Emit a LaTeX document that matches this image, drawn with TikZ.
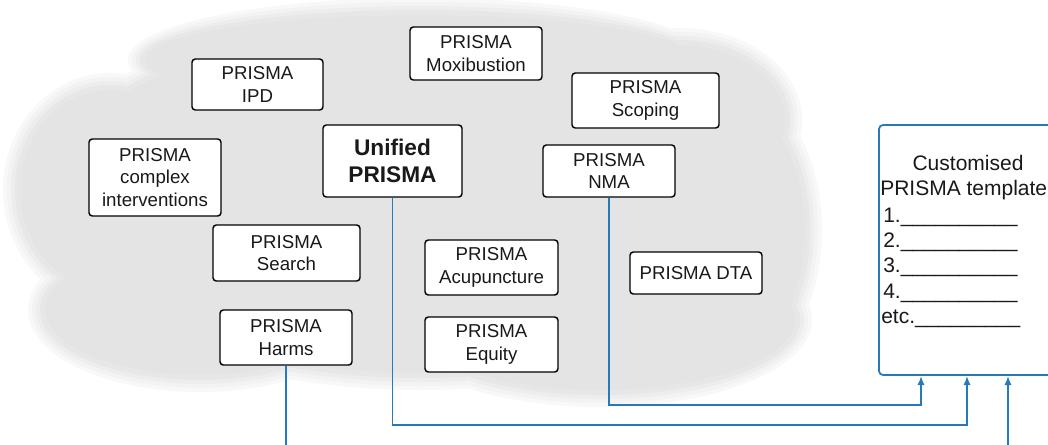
\documentclass[tikz,border=0pt]{standalone}
\usepackage{fontspec}
\setmainfont{Liberation Sans}
\usetikzlibrary{arrows.meta}
\definecolor{lnblue}{RGB}{38,122,186}
\definecolor{txt}{RGB}{25,25,25}
\newcommand{\cloudlayer}[2]{%
  \definecolor{cl}{RGB}{#2,#2,#2}%
  \fill[cl]
  (420,200) ellipse [x radius={285pt+#1pt}, y radius={133.5pt+#1pt}]
  (420,60) ellipse [x radius={210pt+#1pt}, y radius={37.5pt+#1pt}]
  (110,190) ellipse [x radius={71.25pt+#1pt}, y radius={78.75pt+#1pt}]
  (200,310) ellipse [x radius={120pt+#1pt}, y radius={52.5pt+#1pt}]
  (600,320) ellipse [x radius={150pt+#1pt}, y radius={56.25pt+#1pt}]
  (720,230) ellipse [x radius={67.5pt+#1pt}, y radius={105pt+#1pt}]
  (680,120) ellipse [x radius={82.5pt+#1pt}, y radius={60pt+#1pt}];}
\begin{document}
\begin{tikzpicture}[x=0.75pt,y=-0.75pt,
  pbox/.style={draw=black, line width=1.1pt, rounded corners=2.5pt, fill=white,
    align=center, inner sep=0pt, text=txt, font=\fontsize{14}{16.75}\selectfont},
  tbox/.style={draw=lnblue, line width=1.3pt, rounded corners=3pt, fill=white, inner sep=0pt},
  ttext/.style={inner sep=0pt, text=txt, font=\fontsize{15.75}{19}\selectfont},
  conn/.style={draw=lnblue, line width=1.3pt, -{Latex[length=7pt,width=5.5pt]}}]
\useasboundingbox (0,0) rectangle (1048,444);
\clip (0,0) rectangle (1048,444);
\fill[white] (0,0) rectangle (1048,444);
% cloud with soft edge
\cloudlayer{9}{248}
\cloudlayer{6}{243}
\cloudlayer{3}{237}
\cloudlayer{0}{231}
\cloudlayer{-4}{228}
% PRISMA boxes
\node[pbox, minimum width=98.25pt, minimum height=38.25pt] (ipd) at (257.5,84.5) {PRISMA\\IPD};
\node[pbox, minimum width=99pt, minimum height=39.75pt] (mox) at (476,53.5) {PRISMA\\Moxibustion};
\node[pbox, minimum width=110.25pt, minimum height=41.25pt] (scop) at (645.5,100.5) {PRISMA\\Scoping};
\node[pbox, minimum width=104.25pt, minimum height=54pt, font=\fontsize{17}{20}\selectfont\bfseries] (uni) at (392.5,161) {Unified\\PRISMA};
\node[pbox, minimum width=99pt, minimum height=57.75pt] (cplx) at (155,177.5) {PRISMA\\complex\\interventions};
\node[pbox, minimum width=99pt, minimum height=39pt] (nma) at (609,171) {PRISMA\\NMA};
\node[pbox, minimum width=110.25pt, minimum height=42pt] (srch) at (286.5,253) {PRISMA\\Search};
\node[pbox, minimum width=99.75pt, minimum height=41.25pt] (acu) at (491.5,267.5) {PRISMA\\Acupuncture};
\node[pbox, minimum width=99pt, minimum height=31.5pt] (dta) at (696,273) {PRISMA DTA};
\node[pbox, minimum width=99pt, minimum height=41.25pt] (harm) at (286,337.5) {PRISMA\\Harms};
\node[pbox, minimum width=99.75pt, minimum height=41.25pt] (equ) at (491.5,344.5) {PRISMA\\Equity};
% template box
\node[tbox, minimum width=139.5pt, minimum height=187.5pt] (tpl) at (972,250) {};
\node[ttext, anchor=base] (t1) at (968,170) {Customised};
\node[ttext, anchor=base west] (t2) at (880,195) {PRISMA template};
\node[ttext, anchor=base west] (l1) at (883,222) {1.\_\_\_\_\_\_\_\_\_\_};
\node[ttext, anchor=base west] (l2) at (883,247) {2.\_\_\_\_\_\_\_\_\_\_};
\node[ttext, anchor=base west] (l3) at (883,272) {3.\_\_\_\_\_\_\_\_\_\_};
\node[ttext, anchor=base west] (l4) at (883,298) {4.\_\_\_\_\_\_\_\_\_\_};
\node[ttext, anchor=base west] (l5) at (881,323) {etc.\_\_\_\_\_\_\_\_\_};
% connectors
\coordinate (n1) at (921,0);
\coordinate (n2) at (967,0);
\coordinate (n3) at (1008,0);
\draw[conn] (nma.south) -- ++(0,207) -| (tpl.south -| n1);
\draw[conn] (uni.south) -- ++(0,227) -| (tpl.south -| n2);
\draw[conn] (harm.south) -- ++(0,130) -| (tpl.south -| n3);
\end{tikzpicture}
\end{document}
